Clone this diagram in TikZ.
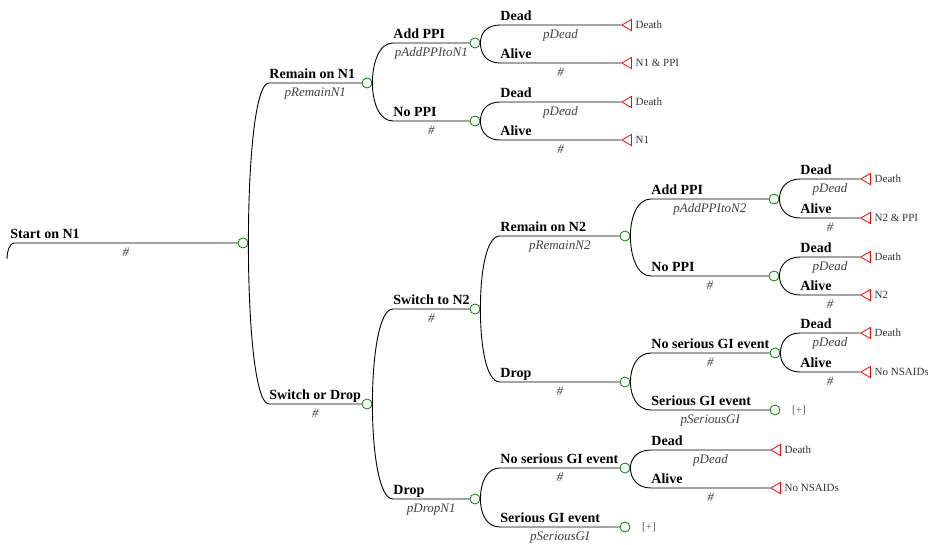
\documentclass[tikz,border=0pt]{standalone}
\usepackage{fontspec}
\setmainfont{Liberation Serif}
\usetikzlibrary{shapes.geometric,calc}

\begin{document}
\begin{tikzpicture}[x=1pt,y=-1pt,line width=0.9pt,
  chance/.style={circle,draw=green!50!black,fill=white,line width=0.8pt,minimum size=10pt,inner sep=0pt},
  term/.style={regular polygon,regular polygon sides=3,shape border rotate=90,draw=red,line width=0.8pt,
    minimum size=13pt,inner sep=0pt,anchor=west,label distance=3pt},
  blab/.style={anchor=base west,yshift=4.5pt,inner sep=0pt,font=\fontsize{14}{16}\selectfont\bfseries},
  plab/.style={anchor=base,yshift=-13.5pt,inner sep=0pt,text=black!75,font=\fontsize{13}{15}\selectfont\itshape},
  tlab/.style={text=black!80,font=\fontsize{11}{13}\selectfont},
  ]

  \useasboundingbox (0,0) rectangle (928,545);

  % columns where the branches turn flat
  \coordinate (k0) at (14,0);
  \coordinate (k1) at (269,0);
  \coordinate (k2) at (393,0);
  \coordinate (k3) at (500,0);
  \coordinate (k4) at (651,0);
  \coordinate (k5) at (800,0);
  \coordinate (r0) at (7,259);

  % chance nodes
  \node[chance] (c0) at (243,243) {};
  \node[chance] (c1) at (367,83) {};
  \node[chance] (c2) at (367,404) {};
  \node[chance] (c11) at (475,43) {};
  \node[chance] (c12) at (475,121) {};
  \node[chance] (c21) at (475,309) {};
  \node[chance] (c22) at (475,499) {};
  \node[chance] (c211) at (625,236) {};
  \node[chance] (c212) at (625,382) {};
  \node[chance] (c221) at (625,468) {};
  \node[chance,label={[tlab,text=black!65,label distance=8pt]right:[+]}] (c222) at (625,527) {};
  \node[chance] (c2111) at (774,199) {};
  \node[chance] (c2112) at (774,276) {};
  \node[chance] (c2121) at (775,353) {};
  \node[chance,label={[tlab,text=black!65,label distance=8pt]right:[+]}] (c2122) at (775,410) {};

  % terminal nodes
  \node[term,label={[tlab]right:Death}] (t111) at (621,25) {};
  \node[term,label={[tlab]right:N1 \& PPI}] (t112) at (621,63) {};
  \node[term,label={[tlab]right:Death}] (t121) at (621,102) {};
  \node[term,label={[tlab]right:N1}] (t122) at (621,140) {};
  \node[term,label={[tlab]right:Death}] (t21111) at (860,179) {};
  \node[term,label={[tlab]right:N2 \& PPI}] (t21112) at (860,218) {};
  \node[term,label={[tlab]right:Death}] (t21121) at (860,257) {};
  \node[term,label={[tlab]right:N2}] (t21122) at (860,295) {};
  \node[term,label={[tlab]right:Death}] (t21211) at (860,333) {};
  \node[term,label={[tlab]right:No NSAIDs}] (t21212) at (860,372) {};
  \node[term,label={[tlab]right:Death}] (t2211) at (770,450) {};
  \node[term,label={[tlab]right:No NSAIDs}] (t2212) at (770,488) {};

  % root
  \draw (r0) .. controls ($(r0)!.5!(r0 |- c0)$) and ($(c0 -| k0)+(-4,0)$) .. (c0 -| k0)
    node[blab,xshift=-4pt] (lc0) {Start on N1}
    -- node[plab] (pc0) {\#} (c0.west);

  % first split
  \draw (c0.east) .. controls ($(c0.east)!.5!(c0.east |- c1)$) and ($(c1 -| k1)+(-14,0)$) .. (c1 -| k1)
    node[blab] (lc1) {Remain on N1} -- node[plab] (pc1) {pRemainN1} (c1.west);
  \draw (c0.east) .. controls ($(c0.east)!.5!(c0.east |- c2)$) and ($(c2 -| k1)+(-14,0)$) .. (c2 -| k1)
    node[blab] (lc2) {Switch or Drop} -- node[plab] (pc2) {\#} (c2.west);

  % remain on N1
  \draw (c1.east) .. controls ($(c1.east)!.5!(c1.east |- c11)$) and ($(c11 -| k2)+(-14,0)$) .. (c11 -| k2)
    node[blab] (lc11) {Add PPI} -- node[plab] (pc11) {pAddPPItoN1} (c11.west);
  \draw (c1.east) .. controls ($(c1.east)!.5!(c1.east |- c12)$) and ($(c12 -| k2)+(-14,0)$) .. (c12 -| k2)
    node[blab] (lc12) {No PPI} -- node[plab] (pc12) {\#} (c12.west);
  \draw (c11.east) .. controls ($(c11.east)!.5!(c11.east |- t111)$) and ($(t111 -| k3)+(-14,0)$) .. (t111 -| k3)
    node[blab] (lt111) {Dead} -- node[plab] (pt111) {pDead} (t111.west);
  \draw (c11.east) .. controls ($(c11.east)!.5!(c11.east |- t112)$) and ($(t112 -| k3)+(-14,0)$) .. (t112 -| k3)
    node[blab] (lt112) {Alive} -- node[plab] (pt112) {\#} (t112.west);
  \draw (c12.east) .. controls ($(c12.east)!.5!(c12.east |- t121)$) and ($(t121 -| k3)+(-14,0)$) .. (t121 -| k3)
    node[blab] (lt121) {Dead} -- node[plab] (pt121) {pDead} (t121.west);
  \draw (c12.east) .. controls ($(c12.east)!.5!(c12.east |- t122)$) and ($(t122 -| k3)+(-14,0)$) .. (t122 -| k3)
    node[blab] (lt122) {Alive} -- node[plab] (pt122) {\#} (t122.west);

  % switch or drop
  \draw (c2.east) .. controls ($(c2.east)!.5!(c2.east |- c21)$) and ($(c21 -| k2)+(-14,0)$) .. (c21 -| k2)
    node[blab] (lc21) {Switch to N2} -- node[plab] (pc21) {\#} (c21.west);
  \draw (c2.east) .. controls ($(c2.east)!.5!(c2.east |- c22)$) and ($(c22 -| k2)+(-14,0)$) .. (c22 -| k2)
    node[blab] (lc22) {Drop} -- node[plab] (pc22) {pDropN1} (c22.west);

  % switch to N2
  \draw (c21.east) .. controls ($(c21.east)!.5!(c21.east |- c211)$) and ($(c211 -| k3)+(-14,0)$) .. (c211 -| k3)
    node[blab] (lc211) {Remain on N2} -- node[plab] (pc211) {pRemainN2} (c211.west);
  \draw (c21.east) .. controls ($(c21.east)!.5!(c21.east |- c212)$) and ($(c212 -| k3)+(-14,0)$) .. (c212 -| k3)
    node[blab] (lc212) {Drop} -- node[plab] (pc212) {\#} (c212.west);
  \draw (c211.east) .. controls ($(c211.east)!.5!(c211.east |- c2111)$) and ($(c2111 -| k4)+(-14,0)$) .. (c2111 -| k4)
    node[blab] (lc2111) {Add PPI} -- node[plab] (pc2111) {pAddPPItoN2} (c2111.west);
  \draw (c211.east) .. controls ($(c211.east)!.5!(c211.east |- c2112)$) and ($(c2112 -| k4)+(-14,0)$) .. (c2112 -| k4)
    node[blab] (lc2112) {No PPI} -- node[plab] (pc2112) {\#} (c2112.west);
  \draw (c2111.east) .. controls ($(c2111.east)!.5!(c2111.east |- t21111)$) and ($(t21111 -| k5)+(-14,0)$) .. (t21111 -| k5)
    node[blab] (lt21111) {Dead} -- node[plab] (pt21111) {pDead} (t21111.west);
  \draw (c2111.east) .. controls ($(c2111.east)!.5!(c2111.east |- t21112)$) and ($(t21112 -| k5)+(-14,0)$) .. (t21112 -| k5)
    node[blab] (lt21112) {Alive} -- node[plab] (pt21112) {\#} (t21112.west);
  \draw (c2112.east) .. controls ($(c2112.east)!.5!(c2112.east |- t21121)$) and ($(t21121 -| k5)+(-14,0)$) .. (t21121 -| k5)
    node[blab] (lt21121) {Dead} -- node[plab] (pt21121) {pDead} (t21121.west);
  \draw (c2112.east) .. controls ($(c2112.east)!.5!(c2112.east |- t21122)$) and ($(t21122 -| k5)+(-14,0)$) .. (t21122 -| k5)
    node[blab] (lt21122) {Alive} -- node[plab] (pt21122) {\#} (t21122.west);
  \draw (c212.east) .. controls ($(c212.east)!.5!(c212.east |- c2121)$) and ($(c2121 -| k4)+(-14,0)$) .. (c2121 -| k4)
    node[blab] (lc2121) {No serious GI event} -- node[plab] (pc2121) {\#} (c2121.west);
  \draw (c212.east) .. controls ($(c212.east)!.5!(c212.east |- c2122)$) and ($(c2122 -| k4)+(-14,0)$) .. (c2122 -| k4)
    node[blab] (lc2122) {Serious GI event} -- node[plab] (pc2122) {pSeriousGI} (c2122.west);
  \draw (c2121.east) .. controls ($(c2121.east)!.5!(c2121.east |- t21211)$) and ($(t21211 -| k5)+(-14,0)$) .. (t21211 -| k5)
    node[blab] (lt21211) {Dead} -- node[plab] (pt21211) {pDead} (t21211.west);
  \draw (c2121.east) .. controls ($(c2121.east)!.5!(c2121.east |- t21212)$) and ($(t21212 -| k5)+(-14,0)$) .. (t21212 -| k5)
    node[blab] (lt21212) {Alive} -- node[plab] (pt21212) {\#} (t21212.west);

  % drop N1
  \draw (c22.east) .. controls ($(c22.east)!.5!(c22.east |- c221)$) and ($(c221 -| k3)+(-14,0)$) .. (c221 -| k3)
    node[blab] (lc221) {No serious GI event} -- node[plab] (pc221) {\#} (c221.west);
  \draw (c22.east) .. controls ($(c22.east)!.5!(c22.east |- c222)$) and ($(c222 -| k3)+(-14,0)$) .. (c222 -| k3)
    node[blab] (lc222) {Serious GI event} -- node[plab] (pc222) {pSeriousGI} (c222.west);
  \draw (c221.east) .. controls ($(c221.east)!.5!(c221.east |- t2211)$) and ($(t2211 -| k4)+(-14,0)$) .. (t2211 -| k4)
    node[blab] (lt2211) {Dead} -- node[plab] (pt2211) {pDead} (t2211.west);
  \draw (c221.east) .. controls ($(c221.east)!.5!(c221.east |- t2212)$) and ($(t2212 -| k4)+(-14,0)$) .. (t2212 -| k4)
    node[blab] (lt2212) {Alive} -- node[plab] (pt2212) {\#} (t2212.west);

\end{tikzpicture}
\end{document}
